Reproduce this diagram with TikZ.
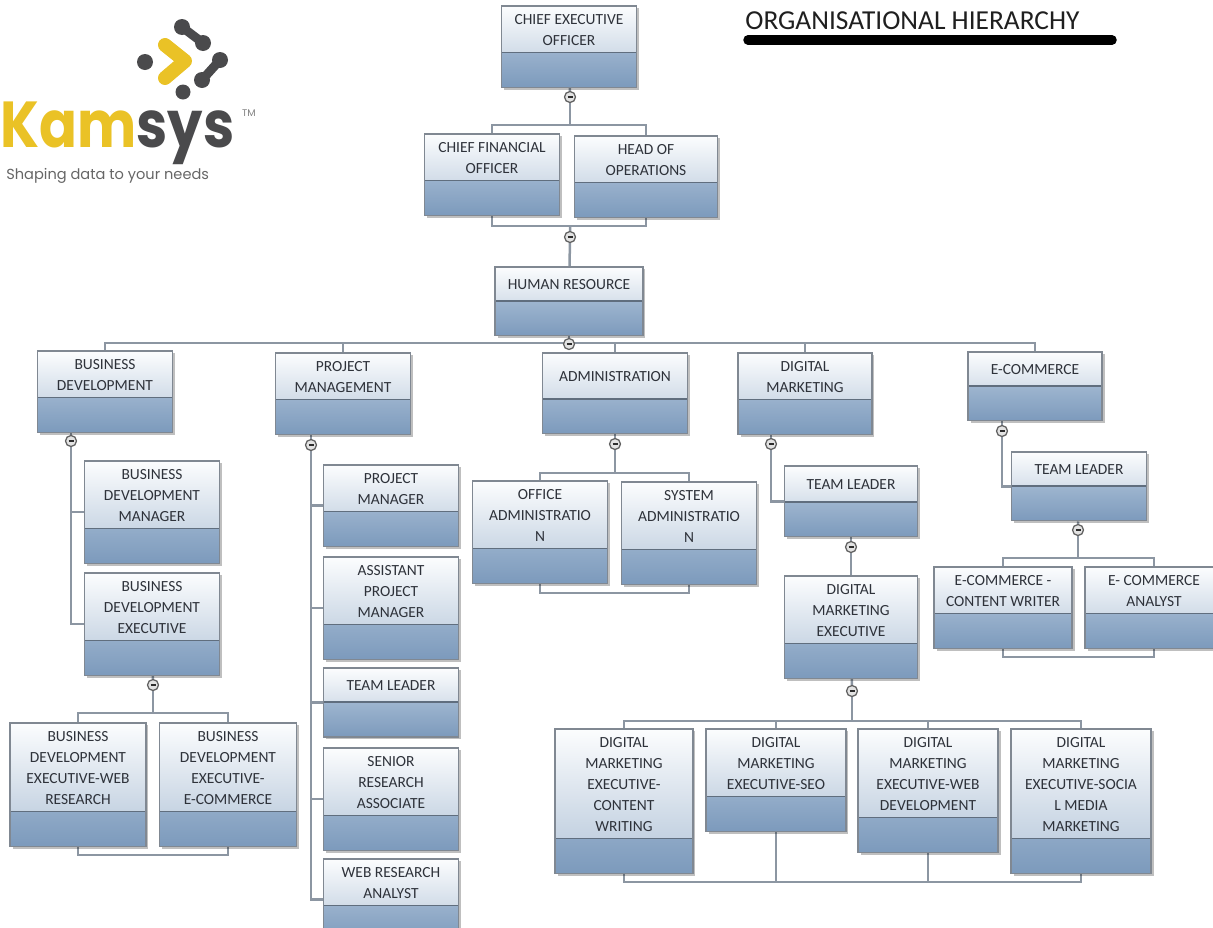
\documentclass[tikz,border=0pt]{standalone}
\usepackage{fontspec}
\setmainfont{Carlito}
\newfontfamily\logofont{Poppins}
\usetikzlibrary{shadows}
\pgfdeclarelayer{bg}
\pgfsetlayers{bg,main}
\definecolor{boxtext}{RGB}{46,50,58}
\definecolor{boxline}{RGB}{128,136,146}
\definecolor{toplight}{RGB}{252,253,254}
\definecolor{topdark}{RGB}{178,196,216}
\definecolor{bandtop}{RGB}{192,208,226}
\definecolor{bandbot}{RGB}{124,154,188}
\definecolor{sepcol}{RGB}{96,110,126}
\definecolor{linkcol}{RGB}{140,150,162}
\definecolor{logoyellow}{RGB}{234,194,38}
\definecolor{logogray}{RGB}{74,74,76}
\tikzset{
    orgbox/.style={rectangle, anchor=north, draw=boxline, line width=0.3mm,
        minimum width=27mm, minimum height=13.8mm, inner xsep=0.5mm, inner ysep=1.76mm,
        align=center, text=boxtext, font=\fontsize{8.8pt}{11.95pt}\selectfont,
        top color=toplight, bottom color=topdark,
        drop shadow={shadow xshift=0.5mm, shadow yshift=-0.5mm, fill=black, opacity=0.25},
        execute at end node={\rule[-6.6mm]{0pt}{6.6mm}},
        path picture={
            \fill[top color=bandtop, bottom color=bandbot] (path picture bounding box.south west) rectangle ([yshift=7mm]path picture bounding box.south east);
            \draw[sepcol, line width=0.3mm] ([yshift=7mm]path picture bounding box.south west) -- ([yshift=7mm]path picture bounding box.south east);
        }},
    knob/.style={circle, draw=gray!75!black, fill=gray!22, minimum size=2.2mm, inner sep=0pt, line width=0.25mm,
        path picture={\draw[gray!35!black, line width=0.3mm] ([xshift=-0.5mm]path picture bounding box.center) -- ([xshift=0.5mm]path picture bounding box.center);}},
    link/.style={draw=linkcol, line width=0.5mm}
}
\begin{document}
\begin{tikzpicture}[x=0.02cm, y=-0.02cm]
    \useasboundingbox (0,0) rectangle (1213,927);

    % logo
    \node (kam) [anchor=base west, inner sep=0pt, font=\logofont\bfseries\fontsize{37pt}{40pt}\selectfont] at (0,147) {\scalebox{0.86}[1]{\textcolor{logoyellow}{Kam}\textcolor{logogray}{sys}}};
    \node (tm) [inner sep=0pt, text=gray, font=\logofont\fontsize{5.5pt}{6pt}\selectfont] at (249,113) {TM};
    \node (tag) [anchor=base west, inner sep=0pt, text=gray!80!black, font=\logofont\fontsize{8.3pt}{9pt}\selectfont] at (6,179) {Shaping data to your needs};
    \draw[logogray, line width=1.8mm, line cap=round] (182,27) -- (203,43);
    \draw[logogray, line width=1.8mm, line cap=round] (220,60) -- (202,80);
    \fill[logogray] (145,62) circle [radius=1.6mm] (183,92) circle [radius=1.5mm]
        (182,27) circle [radius=1.6mm] (203,43) circle [radius=1.6mm]
        (220,60) circle [radius=1.6mm] (202,80) circle [radius=1.6mm];
    \draw[logoyellow, line width=2.8mm, line cap=round, line join=round] (165,45) -- (185,61) -- (165,78);

    % title
    \node (title) [anchor=base west, inner sep=0pt, text=black!88, font=\fontsize{15.6pt}{18pt}\selectfont] at (745,29) {ORGANISATIONAL HIERARCHY};
    \draw[line width=1.9mm, line cap=round] (748,40) -- (1112,40);

    % top
    \node (ceo) [orgbox] at (569,5) {CHIEF EXECUTIVE\\OFFICER};
    \node (cfo) [orgbox] at (492,133) {CHIEF FINANCIAL\\OFFICER};
    \node (hoo) [orgbox, minimum width=28.6mm] at (646,135) {HEAD OF\\OPERATIONS};
    \node (hr) [orgbox, minimum width=29.6mm] at (569,266) {HUMAN RESOURCE};

    % departments
    \node (bd) [orgbox] at (105,350) {BUSINESS\\DEVELOPMENT};
    \node (pm) [orgbox] at (343,352) {PROJECT\\MANAGEMENT};
    \node (adm) [orgbox, minimum width=29mm, minimum height=16.2mm] at (615,352) {ADMINISTRATION};
    \node (dm) [orgbox, minimum width=26.8mm] at (805,352) {DIGITAL\\MARKETING};
    \node (ec) [orgbox, minimum width=26.8mm] at (1035,351) {E-COMMERCE};

    \node (bdm) [orgbox] at (152,460) {BUSINESS\\DEVELOPMENT\\MANAGER};
    \node (bde) [orgbox] at (152,572) {BUSINESS\\DEVELOPMENT\\EXECUTIVE};
    \node (bdweb) [orgbox, minimum width=27.2mm] at (78,722) {BUSINESS\\DEVELOPMENT\\EXECUTIVE-WEB\\RESEARCH};
    \node (bdecom) [orgbox, minimum width=27.4mm] at (228,722) {BUSINESS\\DEVELOPMENT\\EXECUTIVE-\\E-COMMERCE};

    \node (pmgr) [orgbox] at (391,464) {PROJECT\\MANAGER};
    \node (apm) [orgbox] at (391,556) {ASSISTANT\\PROJECT\\MANAGER};
    \node (pmtl) [orgbox] at (391,667) {TEAM LEADER};
    \node (sra) [orgbox] at (391,747) {SENIOR\\RESEARCH\\ASSOCIATE};
    \node (wra) [orgbox] at (391,858) {WEB RESEARCH\\ANALYST};

    \node (offadm) [orgbox] at (540,480) {OFFICE\\ADMINISTRATIO\\N};
    \node (sysadm) [orgbox] at (689,481) {SYSTEM\\ADMINISTRATIO\\N};

    \node (dmtl) [orgbox, minimum width=26.6mm, minimum height=14.2mm] at (851,465) {TEAM LEADER};
    \node (dme) [orgbox, minimum width=26.6mm] at (851,575) {DIGITAL\\MARKETING\\EXECUTIVE};
    \node (dmcw) [orgbox, minimum width=27.6mm] at (624,728) {DIGITAL\\MARKETING\\EXECUTIVE-\\CONTENT\\WRITING};
    \node (dmseo) [orgbox, minimum width=28mm] at (776,728) {DIGITAL\\MARKETING\\EXECUTIVE-SEO};
    \node (dmweb) [orgbox, minimum width=28mm] at (928,728) {DIGITAL\\MARKETING\\EXECUTIVE-WEB\\DEVELOPMENT};
    \node (dmsmm) [orgbox, minimum width=28mm] at (1081,728) {DIGITAL\\MARKETING\\EXECUTIVE-SOCIA\\L MEDIA\\MARKETING};

    \node (ectl) [orgbox] at (1079,451) {TEAM LEADER};
    \node (eccw) [orgbox, minimum width=27.6mm] at (1003,566) {E-COMMERCE -\\CONTENT WRITER};
    \node (eca) [orgbox, minimum width=27.6mm] at (1154,566) {E- COMMERCE\\ANALYST};

    % collapse knobs
    \node (ceoc) [knob] at (570,97) {};
    \node (opsc) [knob] at (570,237) {};
    \node (hrc) [knob] at (569,344) {};
    \node (bdc) [knob] at (71,441) {};
    \node (bdec) [knob] at (153,685) {};
    \node (pmc) [knob] at (311,445) {};
    \node (admc) [knob] at (615,444) {};
    \node (dmc) [knob] at (771,444) {};
    \node (dmtlc) [knob] at (851,547) {};
    \node (dmec) [knob] at (852,691) {};
    \node (ecc) [knob] at (1002,431) {};
    \node (ectlc) [knob] at (1078,530) {};

    \begin{pgfonlayer}{bg}
        \draw[link] (ceo) -- (ceoc);
        \draw[link] (cfo.north) -- ++(0,-8) coordinate (opsbar) -| (hoo.north);
        \draw[link] (ceoc) -- (ceoc |- opsbar);
        \draw[link] (cfo.south) -- ++(0,10) coordinate (opsfoot) -| (hoo.south);
        \draw[link] (opsc |- opsfoot) -- (opsc) -- (hr);

        \draw[link] (hr) -- (hrc);
        \draw[link] (bd.north) -- ++(0,-7) coordinate (deptbar) -| (ec.north);
        \foreach \d in {pm,adm,dm}
            \draw[link] (\d.north) -- (\d.north |- deptbar);

        \draw[link] (bdc |- bd.south) -- (bdc);
        \draw[link] (bdc) |- (bdm.west);
        \draw[link] (bdc) |- (bde.west);
        \draw[link] (bde) -- (bdec);
        \draw[link] (bdweb.north) -- ++(0,-9) coordinate (bdebar) -| (bdecom.north);
        \draw[link] (bdec) -- (bdec |- bdebar);
        \draw[link] (bdweb.south) -- ++(0,8) -| (bdecom.south);

        \draw[link] (pmc |- pm.south) -- (pmc);
        \foreach \n in {pmgr,apm,pmtl,sra,wra}
            \draw[link] (pmc) |- (\n.west);

        \draw[link] (adm) -- (admc);
        \draw[link] (offadm.north) -- ++(0,-7) coordinate (admbar) -| (sysadm.north);
        \draw[link] (admc) -- (admc |- admbar);
        \draw[link] (offadm.south) -- ++(0,9) -| (sysadm.south);

        \draw[link] (dmc |- dm.south) -- (dmc);
        \draw[link] (dmc) |- (dmtl.west);
        \draw[link] (dmtl) -- (dmtlc) -- (dme);
        \draw[link] (dme) -- (dmec);
        \draw[link] (dmcw.north) -- ++(0,-7) coordinate (dmbar) -| (dmsmm.north);
        \draw[link] (dmec) -- (dmec |- dmbar);
        \draw[link] (dmcw.south) -- ++(0,8) coordinate (dmfoot) -| (dmsmm.south);
        \foreach \n in {dmseo,dmweb} {
            \draw[link] (\n.north) -- (\n.north |- dmbar);
            \draw[link] (\n.south) -- (\n.south |- dmfoot);
        }

        \draw[link] (ecc |- ec.south) -- (ecc);
        \draw[link] (ecc) |- (ectl.west);
        \draw[link] (ectl) -- (ectlc);
        \draw[link] (eccw.north) -- ++(0,-8) coordinate (ecbar) -| (eca.north);
        \draw[link] (ectlc) -- (ectlc |- ecbar);
        \draw[link] (eccw.south) -- ++(0,8) -| (eca.south);
    \end{pgfonlayer}
\end{tikzpicture}
\end{document}
